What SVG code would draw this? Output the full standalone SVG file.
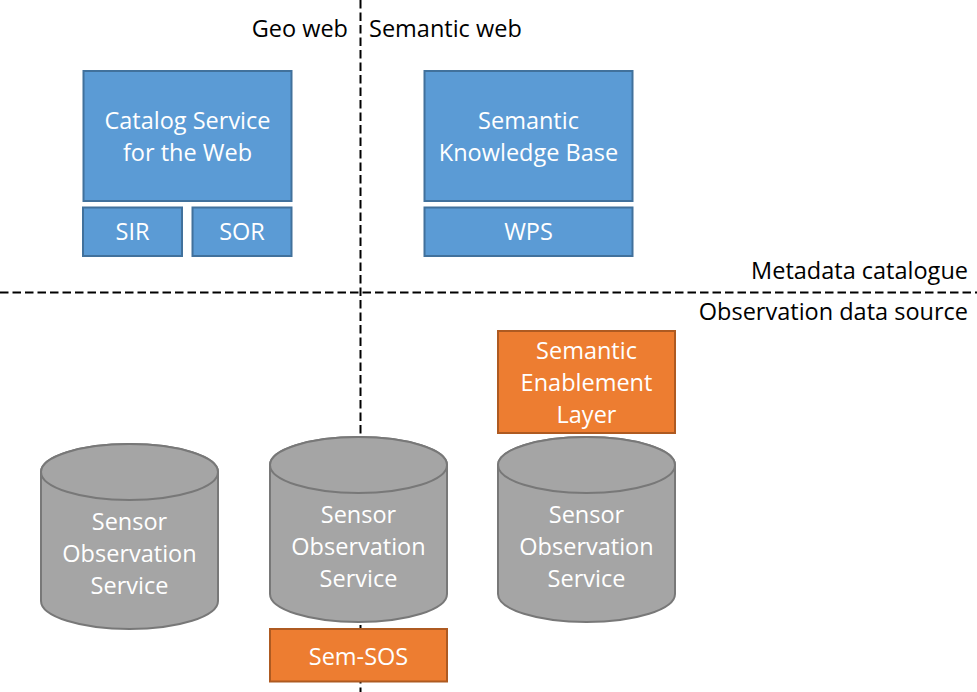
<svg xmlns="http://www.w3.org/2000/svg" width="977" height="692" viewBox="0 0 977 692">
<style>
text{font-family:"Open Sans","Liberation Sans",sans-serif;font-size:23.5px}
.lbl{fill:#000}
.w{fill:#fff;text-anchor:middle}
.blue{fill:#5B9BD5;stroke:#41719C;stroke-width:2}
.orange{fill:#ED7D31;stroke:#AE5A21;stroke-width:2}
.cyl{fill:#A5A5A5;stroke:#787878;stroke-width:2}
.sep{stroke:#000;stroke-width:2;stroke-dasharray:8.5 4;fill:none}
</style>
<rect width="977" height="692" fill="#fff"/>
<g id="separators">
<line class="sep" x1="360.5" y1="0" x2="360.5" y2="692"/>
<line class="sep" x1="0" y1="292.5" x2="977" y2="292.5"/>
</g>
<g id="labels">
<text class="lbl" x="348" y="37" text-anchor="end">Geo web</text>
<text class="lbl" x="369" y="37">Semantic web</text>
<text class="lbl" x="968" y="279" text-anchor="end">Metadata catalogue</text>
<text class="lbl" x="968" y="320" text-anchor="end">Observation data source</text>
</g>
<g id="csw">
<rect class="blue" x="83.5" y="71" width="208" height="130"/>
<text class="w" x="187.5" y="129">Catalog Service</text>
<text class="w" x="187.5" y="161">for the Web</text>
</g>
<g id="sir">
<rect class="blue" x="83" y="207.5" width="99" height="48.5"/>
<text class="w" x="132.5" y="240">SIR</text>
</g>
<g id="sor">
<rect class="blue" x="192.5" y="207.5" width="99" height="48.5"/>
<text class="w" x="242" y="240">SOR</text>
</g>
<g id="skb">
<rect class="blue" x="424.5" y="71" width="208" height="130"/>
<text class="w" x="528.5" y="129">Semantic</text>
<text class="w" x="528.5" y="161">Knowledge Base</text>
</g>
<g id="wps">
<rect class="blue" x="424.5" y="207.5" width="208" height="48.5"/>
<text class="w" x="528.5" y="240">WPS</text>
</g>
<g id="sel">
<rect class="orange" x="498" y="331" width="177" height="102"/>
<text class="w" x="586.5" y="359">Semantic</text>
<text class="w" x="586.5" y="391">Enablement</text>
<text class="w" x="586.5" y="423">Layer</text>
</g>
<g id="sos1">
<path class="cyl" d="M41,472 A88.5,28 0 0 1 218,472 V601 A88.5,28 0 0 1 41,601 Z"/>
<ellipse class="cyl" cx="129.5" cy="472" rx="88.5" ry="28"/>
<text class="w" x="129.5" y="530">Sensor</text>
<text class="w" x="129.5" y="562">Observation</text>
<text class="w" x="129.5" y="594">Service</text>
</g>
<g id="sos2">
<path class="cyl" d="M270,465 A88.5,28 0 0 1 447,465 V594 A88.5,28 0 0 1 270,594 Z"/>
<ellipse class="cyl" cx="358.5" cy="465" rx="88.5" ry="28"/>
<text class="w" x="358.5" y="523">Sensor</text>
<text class="w" x="358.5" y="555">Observation</text>
<text class="w" x="358.5" y="587">Service</text>
</g>
<g id="sos3">
<path class="cyl" d="M498,465 A88.5,28 0 0 1 675,465 V594 A88.5,28 0 0 1 498,594 Z"/>
<ellipse class="cyl" cx="586.5" cy="465" rx="88.5" ry="28"/>
<text class="w" x="586.5" y="523">Sensor</text>
<text class="w" x="586.5" y="555">Observation</text>
<text class="w" x="586.5" y="587">Service</text>
</g>
<g id="semsos">
<rect class="orange" x="270" y="629" width="177" height="52.5"/>
<text class="w" x="358.5" y="665">Sem-SOS</text>
</g>
</svg>
